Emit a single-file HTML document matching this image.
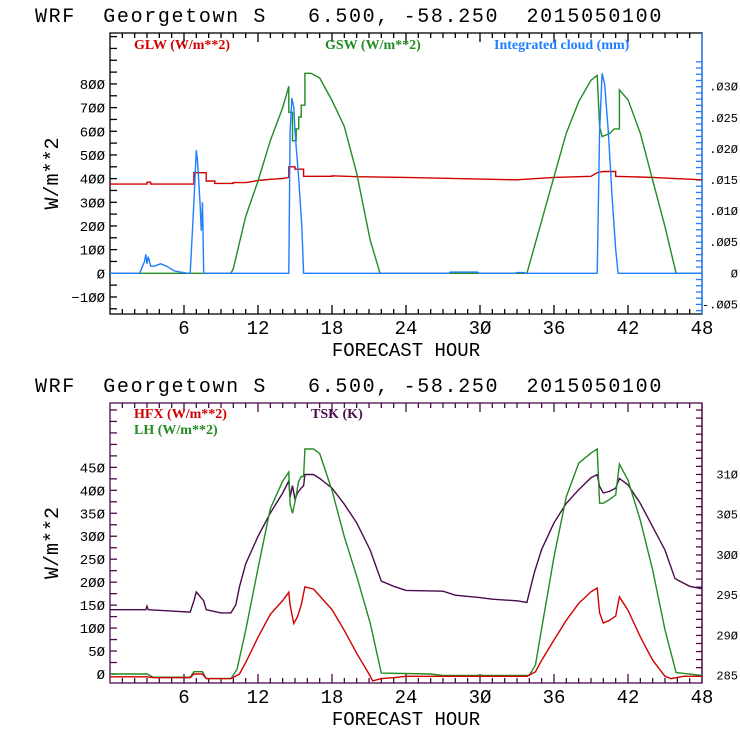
<!DOCTYPE html>
<html><head><meta charset="utf-8"><style>
body{margin:0;background:#fff;}
svg{display:block;font-family:"Liberation Mono",monospace;}
.t{font-size:20px;fill:#000;letter-spacing:1.65px;}
.lg{font-family:"Liberation Serif",serif;font-size:14px;font-weight:bold;}
.tk{font-size:14px;fill:#000;}
.xt{font-size:19px;fill:#000;}
.yt{font-size:20px;fill:#000;}
.rt{font-size:12px;fill:#000;}
</style></head><body>
<svg id="c" width="740" height="740" viewBox="0 0 740 740" xmlns="http://www.w3.org/2000/svg">
<text class="t" x="35" y="22" xml:space="preserve">WRF  Georgetown S   6.500, -58.250  2015050100</text>
<text class="t" x="35" y="392" xml:space="preserve">WRF  Georgetown S   6.500, -58.250  2015050100</text>
<g id="top"></g>
<g id="bot"></g>
<text class="lg" x="134" y="49" fill="#d00000">GLW (W/m**2)</text>
<text class="lg" x="325" y="49" fill="#228b22">GSW (W/m**2)</text>
<text class="lg" x="494" y="49" fill="#1e7fff">Integrated cloud (mm)</text>
<text class="lg" x="134" y="418" fill="#d00000">HFX (W/m**2)</text>
<text class="lg" x="134" y="434" fill="#228b22">LH  (W/m**2)</text>
<text class="lg" x="311" y="418" fill="#4b0a4b">TSK (K)</text>
</svg>
<script>
// ---- data ----
const xTicks = [6,12,18,24,30,36,42,48];
const topYTicks = [-100,0,100,200,300,400,500,600,700,800];
const topRTicks = [-0.005,0,0.005,0.010,0.015,0.020,0.025,0.030];
const topRLabels = ['-.005','0','.005','.010','.015','.020','.025','.030'];
const botYTicks = [0,50,100,150,200,250,300,350,400,450];
const botRTicks = [285,290,295,300,305,310];

const glwHours = [0,3,3,3.3,3.3,6.8,6.8,7.8,7.8,8.5,8.5,10,10,11,11.5,12,13,14,14.5,14.5,15,15,15.7,15.7,18,18,20,24,30,33,36,39,39.5,40,41,41,44,48];
const glwVals  = [377,377,385,385,377,377,425,425,390,390,380,380,383,383,387,392,397,400,405,450,450,440,440,410,410,412,408,405,398,395,405,410,425,430,430,410,405,395];

const gswHours = [0,9.8,10,10.5,11,12,13,14,14.5,14.5,14.8,14.8,15.1,15.1,15.3,15.3,15.5,15.5,15.8,15.8,16.3,17,18,19,20,21.1,21.9,33.8,36,37,38,39,39.5,39.7,39.9,40.5,40.9,41.3,41.3,42,43,44,45,45.9,48];
const gswVals  = [0,0,20,130,240,390,560,700,790,680,680,560,560,610,610,660,660,710,710,845,845,825,730,620,423,140,0,0,408,592,725,816,836,620,578,590,610,610,775,733,592,393,197,0,0];

const cldHours = [0,2.4,2.8,2.9,3.0,3.1,3.3,3.6,4.1,4.6,5.2,5.7,6.3,6.5,6.8,7.0,7.1,7.3,7.4,7.5,7.6,7.8,14.5,14.6,14.75,14.9,15.0,15.3,15.55,15.7,27.5,27.6,29.8,29.9,32.8,33,33.6,33.7,39.5,39.7,39.9,40.1,40.4,40.7,41.0,41.2,48];
const cldVals  = [0,0,50,80,40,70,30,30,40,30,10,5,0,0,300,520,470,300,180,300,0,0,0,600,740,700,600,400,200,0,0,5,5,0,0,3,3,0,0,600,845,800,600,330,100,0,0];

const tskHours = [0,2.9,3,3.1,5,6.5,6.8,7.0,7.6,7.8,9,9.8,10.2,10.5,11,12,13,14,14.5,14.6,14.8,15,15.2,15.5,15.7,15.8,16.5,17,18,19,20,21.1,22,23,24,27,28,30,31,33,33.8,34.4,35,36,37,38,39,39.5,39.7,40,40.5,41,41.3,42,43,44,45,45.8,46,47,48];
const tskVals  = [293.2,293.2,293.65,293.2,293.02,292.9,294.3,295.4,294.3,293.2,292.8,292.8,293.8,296.05,298.9,302.3,305.2,307.7,309.2,307.2,308.6,306.9,307.7,308.3,308.6,310.0,310.0,309.5,308.3,306.3,304.0,300.6,296.75,296.1,295.6,295.5,295.0,294.7,294.5,294.3,294.1,297.8,300.7,304,306.4,308.1,309.6,310,308.5,307.7,307.9,308.3,309.5,308.7,306.4,303.5,300.6,297.1,296.9,296.1,295.8];

const lhHours = [0,3,3.5,6.5,6.8,7.5,7.8,9.8,10.3,11,12,13,14,14.5,14.6,14.8,15,15.3,15.5,15.7,15.8,16.5,17,18,19,20,21.1,22,26,27,34,34.5,35,36,37,38,39,39.5,39.7,40,40.5,41,41.3,42,43,44,45,45.9,48];
const lhVals  = [0,0,-7,-7,5,5,-10,-10,10,95,230,360,420,440,370,350,375,420,430,430,490,490,480,400,299,213,111,2,0,-3,-3,20,100,255,386,459,481,490,372,372,380,390,457,422,335,226,96,3,-3];

const hfxHours = [0,3,3.5,6.5,6.8,7.5,7.8,9.8,10.5,11,12,13,14,14.5,14.6,14.9,15.2,15.5,15.8,16.5,17,18,19,20,21,21.3,22,23,24,33.8,34.5,35,36,37,38,39,39.5,39.7,40,40.5,41,41.3,42,43,44,45,45.5,46.5,48];
const hfxVals  = [-6,-6,-8,-8,0,0,-10,-10,0,25,80,130,160,178,150,110,125,150,190,185,170,140,95,45,0,-15,-10,-8,-5,-5,5,30,74,117,154,179,187,133,111,117,126,168,139,81,30,-5,-10,-5,-5];

// ---- axes ----
const X0=110, X1=702;
const xs = h => X0 + h*(X1-X0)/48;
const topY = v => 273.3 - v*0.2367;
const topR = v => 273.3 - v*(273.3-86.7)/0.030;
const botY = v => 674 - v*0.4592;
const botR = k => 675.7 - (k-285)*8.05;
const NS='http://www.w3.org/2000/svg';
function mk(tag, parent, attrs){const e=document.createElementNS(NS,tag);for(const k in attrs)e.setAttribute(k,attrs[k]);parent.appendChild(e);return e;}
function line(g,x1,y1,x2,y2,c){return mk('line',g,{x1:x1,y1:y1,x2:x2,y2:y2,stroke:c,'stroke-width':1.3});}

function panel(g, T, B, fc, rc, yFn, yMin, yMax, yStep, yTicks, rFn, rMin, rMax, rStep, rTicks, rLabels){
  const box=mk('rect',g,{x:X0,y:T,width:X1-X0,height:B-T,fill:'none',stroke:fc,'stroke-width':1.3});
  
  
  line(g,X1,T,X1,B,rc);
  for(let h=1;h<48;h++){const L=(h%6===0)?9:5;line(g,xs(h),B,xs(h),B-L,fc);line(g,xs(h),T,xs(h),T+L,fc);}
  xTicks.forEach(h=>{const t=mk('text',g,{x:xs(h),y:B+20,'text-anchor':'middle',class:'xt'});t.textContent=String(h).replace(/0/g,'Ø');
    
    });
  for(let v=yMin;v<=yMax+1e-9;v+=yStep){const y=yFn(v);if(y<T+1||y>B-1)continue;line(g,X0,y,X0+7,y,fc);}
  yTicks.forEach(v=>{const t=mk('text',g,{x:X0-5,y:yFn(v)+5,'text-anchor':'end',class:'tk'});t.textContent=String(v).replace(/0/g,'Ø').replace('-','−');
    
    });
  for(let v=rMin;v<=rMax+1e-9;v+=rStep){const y=rFn(v);if(y<T+1||y>B-1)continue;line(g,X1,y,X1-6,y,rc);}
  rTicks.forEach((v,i)=>{const t=mk('text',g,{x:X1+36,y:rFn(v)+4,'text-anchor':'end',class:'rt'});t.textContent=rLabels[i].replace(/0/g,'Ø');
    
    });
  const xt=mk('text',g,{x:406,y:B+42,'text-anchor':'middle',class:'xt'});xt.textContent='FORECAST HOUR';
  
  
  const yc=(T+B)/2;
  const yt=mk('text',g,{x:58,y:yc,'text-anchor':'middle',class:'yt',transform:'rotate(-90 58 '+yc+')'});yt.textContent='W/m**2';
  
  
}
function series(g, hours, vals, yFn, color, name){
  const pts=hours.map((h,i)=>xs(h).toFixed(1)+','+yFn(vals[i]).toFixed(1)).join(' ');
  const p=mk('polyline',g,{points:pts,fill:'none',stroke:color,'stroke-width':1.4});
  
  
}
const topG=document.getElementById('top'), botG=document.getElementById('bot');
panel(topG,33,314,'#000','#1e7fff',topY,-150,1000,50,topYTicks,topR,-0.007,0.034,0.001,topRTicks,topRLabels);
series(topG,glwHours,glwVals,topY,'#d00000','glw-line');
series(topG,gswHours,gswVals,topY,'#228b22','gsw-line');
series(topG,cldHours,cldVals,topY,'#1e7fff','cloud-line');
panel(botG,403,683,'#4b0a4b','#4b0a4b',botY,-25,600,25,botYTicks,botR,284,318,1,botRTicks,botRTicks.map(String));
series(botG,tskHours,tskVals,botR,'#4b0a4b','tsk-line');
series(botG,lhHours,lhVals,botY,'#228b22','lh-line');
series(botG,hfxHours,hfxVals,botY,'#d00000','hfx-line');
</script>
</body></html>
